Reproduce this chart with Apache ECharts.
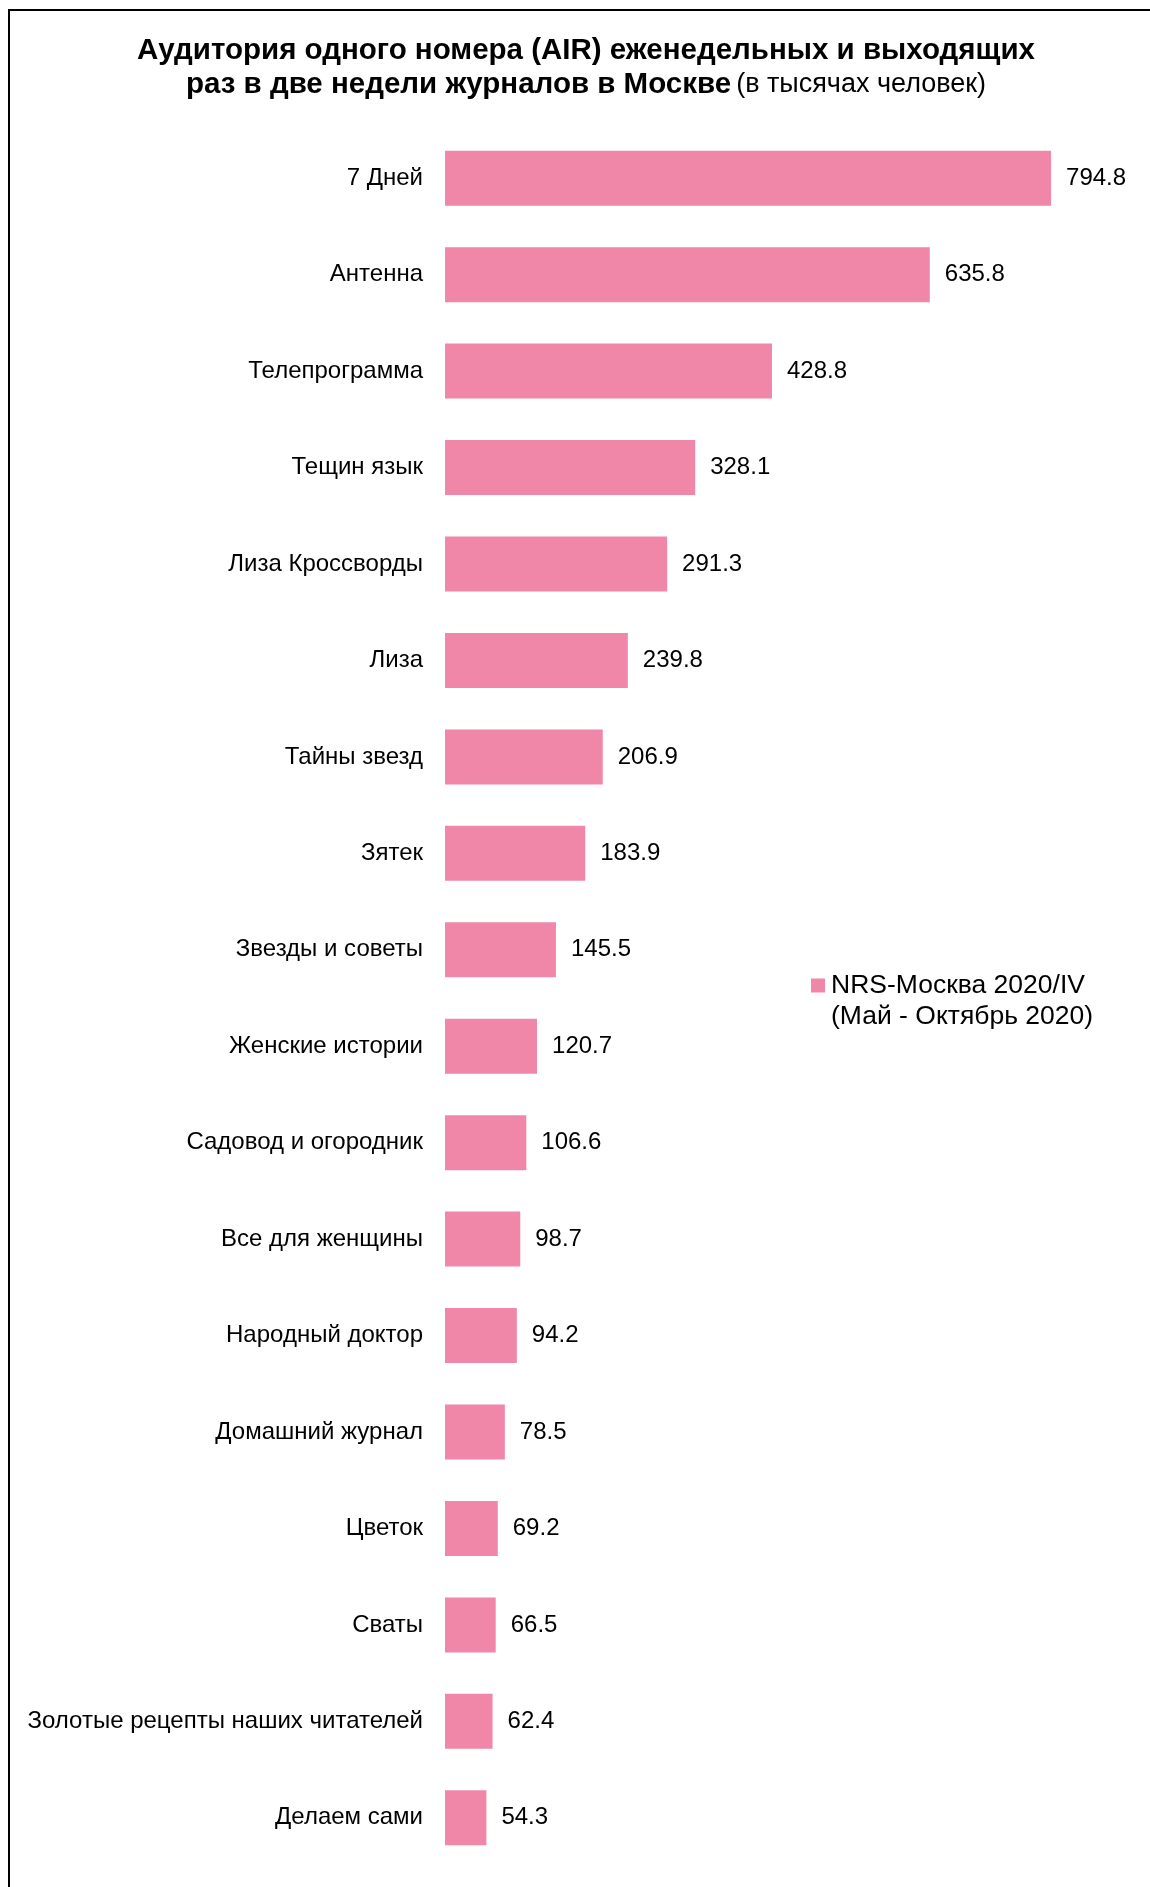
<!DOCTYPE html>
<html>
<head>
<meta charset="utf-8">
<script src="https://cdn.jsdelivr.net/npm/echarts@6/dist/echarts.min.js"></script>
<style>
html,body{margin:0;padding:0;background:#fff;}
#chart{width:1150px;height:1887px;}
</style>
</head>
<body>
<div id="chart"></div>
<script>
const categories = ["7 Дней","Антенна","Телепрограмма","Тещин язык","Лиза Кроссворды","Лиза","Тайны звезд","Зятек","Звезды и советы","Женские истории","Садовод и огородник","Все для женщины","Народный доктор","Домашний журнал","Цветок","Сваты","Золотые рецепты наших читателей","Делаем сами"];
const values = [794.8,635.8,428.8,328.1,291.3,239.8,206.9,183.9,145.5,120.7,106.6,98.7,94.2,78.5,69.2,66.5,62.4,54.3];
const seriesName = "NRS-Москва 2020/IV";
const seriesPeriod = "(Май - Октябрь 2020)";
const titleLine1 = "Аудитория одного номера (AIR) еженедельных и выходящих";
const titleLine2 = "раз в две недели журналов в Москве";
const titleUnit = "(в тысячах человек)";

const FONT = '"Liberation Sans", Arial, Helvetica, sans-serif';
const chart = echarts.init(document.getElementById('chart'), null, {renderer:'canvas'});
chart.setOption({
  backgroundColor: '#fff',
  animation: false,
  textStyle: {fontFamily: FONT},
  title: {
    text: '{b|' + titleLine1 + '}\n{b|' + titleLine2 + '} {n|' + titleUnit + '}',
    left: 581, top: 28.5, textAlign: 'center',
    textStyle: {
      fontFamily: FONT,
      rich: {
        b: {fontSize: 29.5, fontWeight: 'bold', color: '#000', lineHeight: 34, fontFamily: FONT},
        n: {fontSize: 27, fontWeight: 'normal', color: '#000', lineHeight: 34, fontFamily: FONT}
      }
    }
  },
  legend: {
    left: 806, top: 965,
    orient: 'vertical',
    itemWidth: 14, itemHeight: 45,
    icon: 'path://M0,0H14V14H0Z M0,45H0.01V45.01H0Z',
    itemGap: 5,
    data: [seriesName],
    formatter: function(n){ return n + '\n' + seriesPeriod; },
    textStyle: {fontSize: 26.5, color: '#000', lineHeight: 31, fontFamily: FONT, padding: [0,0,0,1]}
  },
  graphic: [{
    type: 'rect', silent: true,
    shape: {x: 9, y: 10, width: 1300, height: 2000},
    style: {fill: 'none', stroke: '#000', lineWidth: 2}
  }],
  grid: {left: 445, right: 95, top: 130, bottom: 21, containLabel: false},
  xAxis: {type: 'value', min: 0, max: 800, show: false, splitLine: {show: false}},
  yAxis: {
    type: 'category', data: categories, inverse: true,
    axisLine: {show: false}, axisTick: {show: false},
    axisLabel: {margin: 22, fontSize: 24, color: '#000', fontFamily: FONT, padding: [2,0,0,0]}
  },
  series: [{
    name: seriesName, type: 'bar', data: values,
    barWidth: 55,
    itemStyle: {color: '#F087A9'},
    label: {show: true, position: 'right', distance: 15, fontSize: 24, color: '#000', fontFamily: FONT,
      padding: [2,0,0,0],
      formatter: function(p){ return p.value.toFixed(1); }}
  }]
});
</script>
</body>
</html>
